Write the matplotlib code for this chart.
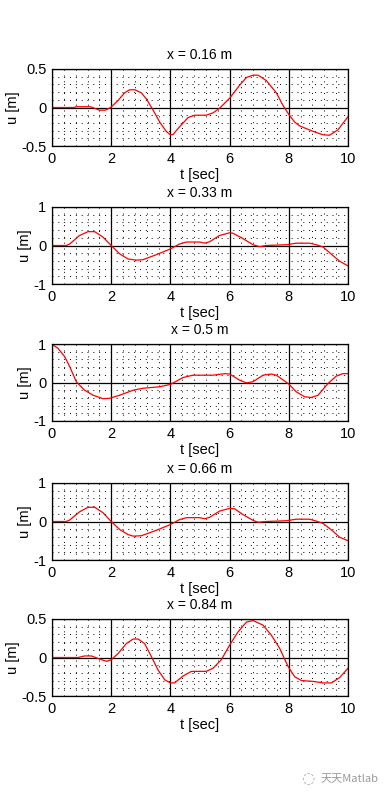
import numpy as np
import matplotlib
matplotlib.use('Agg')
import matplotlib.pyplot as plt
from matplotlib.ticker import MultipleLocator

plt.rcParams['font.family'] = ['Liberation Sans', 'DejaVu Sans']

# positions along the beam
titles = ['x = 0.16 m', 'x = 0.33 m', 'x = 0.5 m', 'x = 0.66 m', 'x = 0.84 m']
ylims = [0.5, 1, 1, 1, 0.5]

# displacement histories
t1 = [0, 0.77, 0.8, 1.3, 1.44, 1.6, 1.8, 1.98, 2.23, 2.45, 2.62, 2.8, 3.02, 3.19, 3.41, 3.64,
      3.86, 4.0, 4.09, 4.31, 4.6, 4.82, 5.21, 5.44, 5.66, 6.0, 6.34, 6.57, 6.79, 6.96, 7.24,
      7.58, 7.8, 8.0, 8.2, 8.37, 8.82, 9.16, 9.38, 9.66, 10]
u1 = [0, 0, 0.01, 0.01, -0.01, -0.035, -0.035, 0, 0.09, 0.19, 0.23, 0.23, 0.19, 0.11, -0.03, -0.19,
      -0.31, -0.355, -0.35, -0.25, -0.13, -0.10, -0.10, -0.07, -0.01, 0.12, 0.29, 0.39, 0.42, 0.42, 0.35,
      0.19, 0.03, -0.09, -0.19, -0.24, -0.31, -0.355, -0.36, -0.29, -0.12]

t2 = [0, 0.48, 0.6, 0.93, 1.22, 1.44, 1.72, 2.0, 2.29, 2.57, 2.85, 3.07, 3.52, 4.0, 4.31, 4.54,
      4.99, 5.16, 5.33, 5.66, 6.0, 6.11, 6.45, 6.79, 7.01, 7.24, 7.92, 8.25, 8.7, 8.93, 9.16,
      9.49, 9.72, 10]
u2 = [0, 0, 0.04, 0.26, 0.36, 0.36, 0.22, 0, -0.22, -0.35, -0.38, -0.37, -0.24, -0.09, 0.04, 0.09,
      0.09, 0.06, 0.10, 0.26, 0.33, 0.32, 0.18, 0.02, -0.03, 0, 0.02, 0.06, 0.06, 0.02, -0.04,
      -0.26, -0.41, -0.53]

t3 = [0, 0.2, 0.43, 0.6, 0.82, 1.1, 1.39, 1.72, 1.95, 2.29, 2.74, 3.07, 3.64, 4.0, 4.43, 4.76,
      5.44, 5.84, 6.0, 6.34, 6.57, 6.79, 7.13, 7.41, 7.58, 8.0, 8.25, 8.53, 8.76, 8.99, 9.32,
      9.61, 9.83, 10]
u3 = [0.99, 0.89, 0.67, 0.41, 0.02, -0.2, -0.33, -0.42, -0.41, -0.33, -0.2, -0.15, -0.11, -0.05, 0.13, 0.19,
      0.19, 0.23, 0.22, 0.06, -0.01, 0.02, 0.19, 0.22, 0.19, -0.04, -0.24, -0.37, -0.39, -0.33, -0.03,
      0.17, 0.23, 0.23]

t4 = [0, 0.48, 0.6, 0.93, 1.22, 1.44, 1.72, 2.0, 2.29, 2.57, 2.74, 3.02, 3.52, 4.0, 4.31, 4.54,
      4.99, 5.16, 5.33, 5.66, 6.0, 6.17, 6.45, 6.79, 6.96, 7.24, 7.92, 8.25, 8.7, 8.93, 9.16,
      9.49, 9.72, 10]
u4 = [0, 0, 0.04, 0.25, 0.37, 0.37, 0.23, 0, -0.21, -0.34, -0.38, -0.37, -0.23, -0.08, 0.05, 0.10,
      0.10, 0.07, 0.11, 0.27, 0.34, 0.33, 0.18, 0.03, -0.02, 0, 0.02, 0.06, 0.06, 0.01, -0.05,
      -0.25, -0.41, -0.5]

t5 = [0, 0.88, 1.1, 1.33, 1.61, 1.84, 2.0, 2.23, 2.51, 2.74, 2.91, 3.13, 3.36, 3.58, 3.81, 4.0,
      4.14, 4.43, 4.71, 4.93, 5.21, 5.44, 5.72, 6.0, 6.28, 6.57, 6.79, 7.13, 7.41, 7.69, 7.98,
      8.2, 8.43, 8.82, 9.16, 9.44, 9.72, 10]
u5 = [0, 0, 0.02, 0.02, -0.02, -0.05, -0.03, 0.05, 0.18, 0.24, 0.24, 0.18, 0.01, -0.16, -0.29, -0.33,
      -0.33, -0.24, -0.18, -0.18, -0.18, -0.14, -0.03, 0.16, 0.33, 0.46, 0.48, 0.42, 0.29, 0.12, -0.12,
      -0.25, -0.3, -0.31, -0.33, -0.33, -0.26, -0.14]

ts = [t1, t2, t3, t4, t5]
us = [u1, u2, u3, u4, u5]

W, H = 385, 797
fig = plt.figure(figsize=(W / 100, H / 100), dpi=100)
tops = [69, 207, 344, 483, 619]
for i in range(5):
    top = tops[i]
    ax = fig.add_axes([52 / W, 1 - (top + 77) / H, 296 / W, 77 / H])
    lim = ylims[i]
    ax.set_xlim(0, 10)
    ax.set_ylim(-lim, lim)
    ax.xaxis.set_major_locator(MultipleLocator(2))
    ax.xaxis.set_minor_locator(MultipleLocator(0.4))
    ax.yaxis.set_minor_locator(MultipleLocator(lim / 5))
    ax.set_yticks([-lim, 0, lim])
    ax.set_yticklabels([f'{-lim:g}', '0', f'{lim:g}'])
    # dotted minor grid, solid major grid
    ax.grid(True, which='minor', color='black', linestyle=(0, (1, 5)), linewidth=0.7)
    ax.grid(True, which='major', color='black', linestyle='-', linewidth=0.9)
    ax.set_axisbelow(True)
    ax.plot(ts[i], us[i], color='red', linewidth=0.9)
    ax.tick_params(which='both', direction='in', length=0, labelsize=10.5, pad=4)
    ax.set_title(titles[i], fontsize=10, pad=7)
    ax.set_xlabel('t [sec]', fontsize=10.5, labelpad=2)
    ax.set_ylabel('u [m]', fontsize=10.5, labelpad=1)
    for s in ax.spines.values():
        s.set_linewidth(0.9)

fig.text(321 / W, 1 - 779 / H, '天天Matlab', fontsize=8, color='#999999',
         family=['Noto Sans CJK SC', 'DejaVu Sans'], ha='left', va='center')
fig.text(308 / W, 1 - 779 / H, '◌', fontsize=11, color='#aaaaaa',
         family=['DejaVu Sans'], ha='center', va='center')

fig.savefig('out.png', dpi=100)
